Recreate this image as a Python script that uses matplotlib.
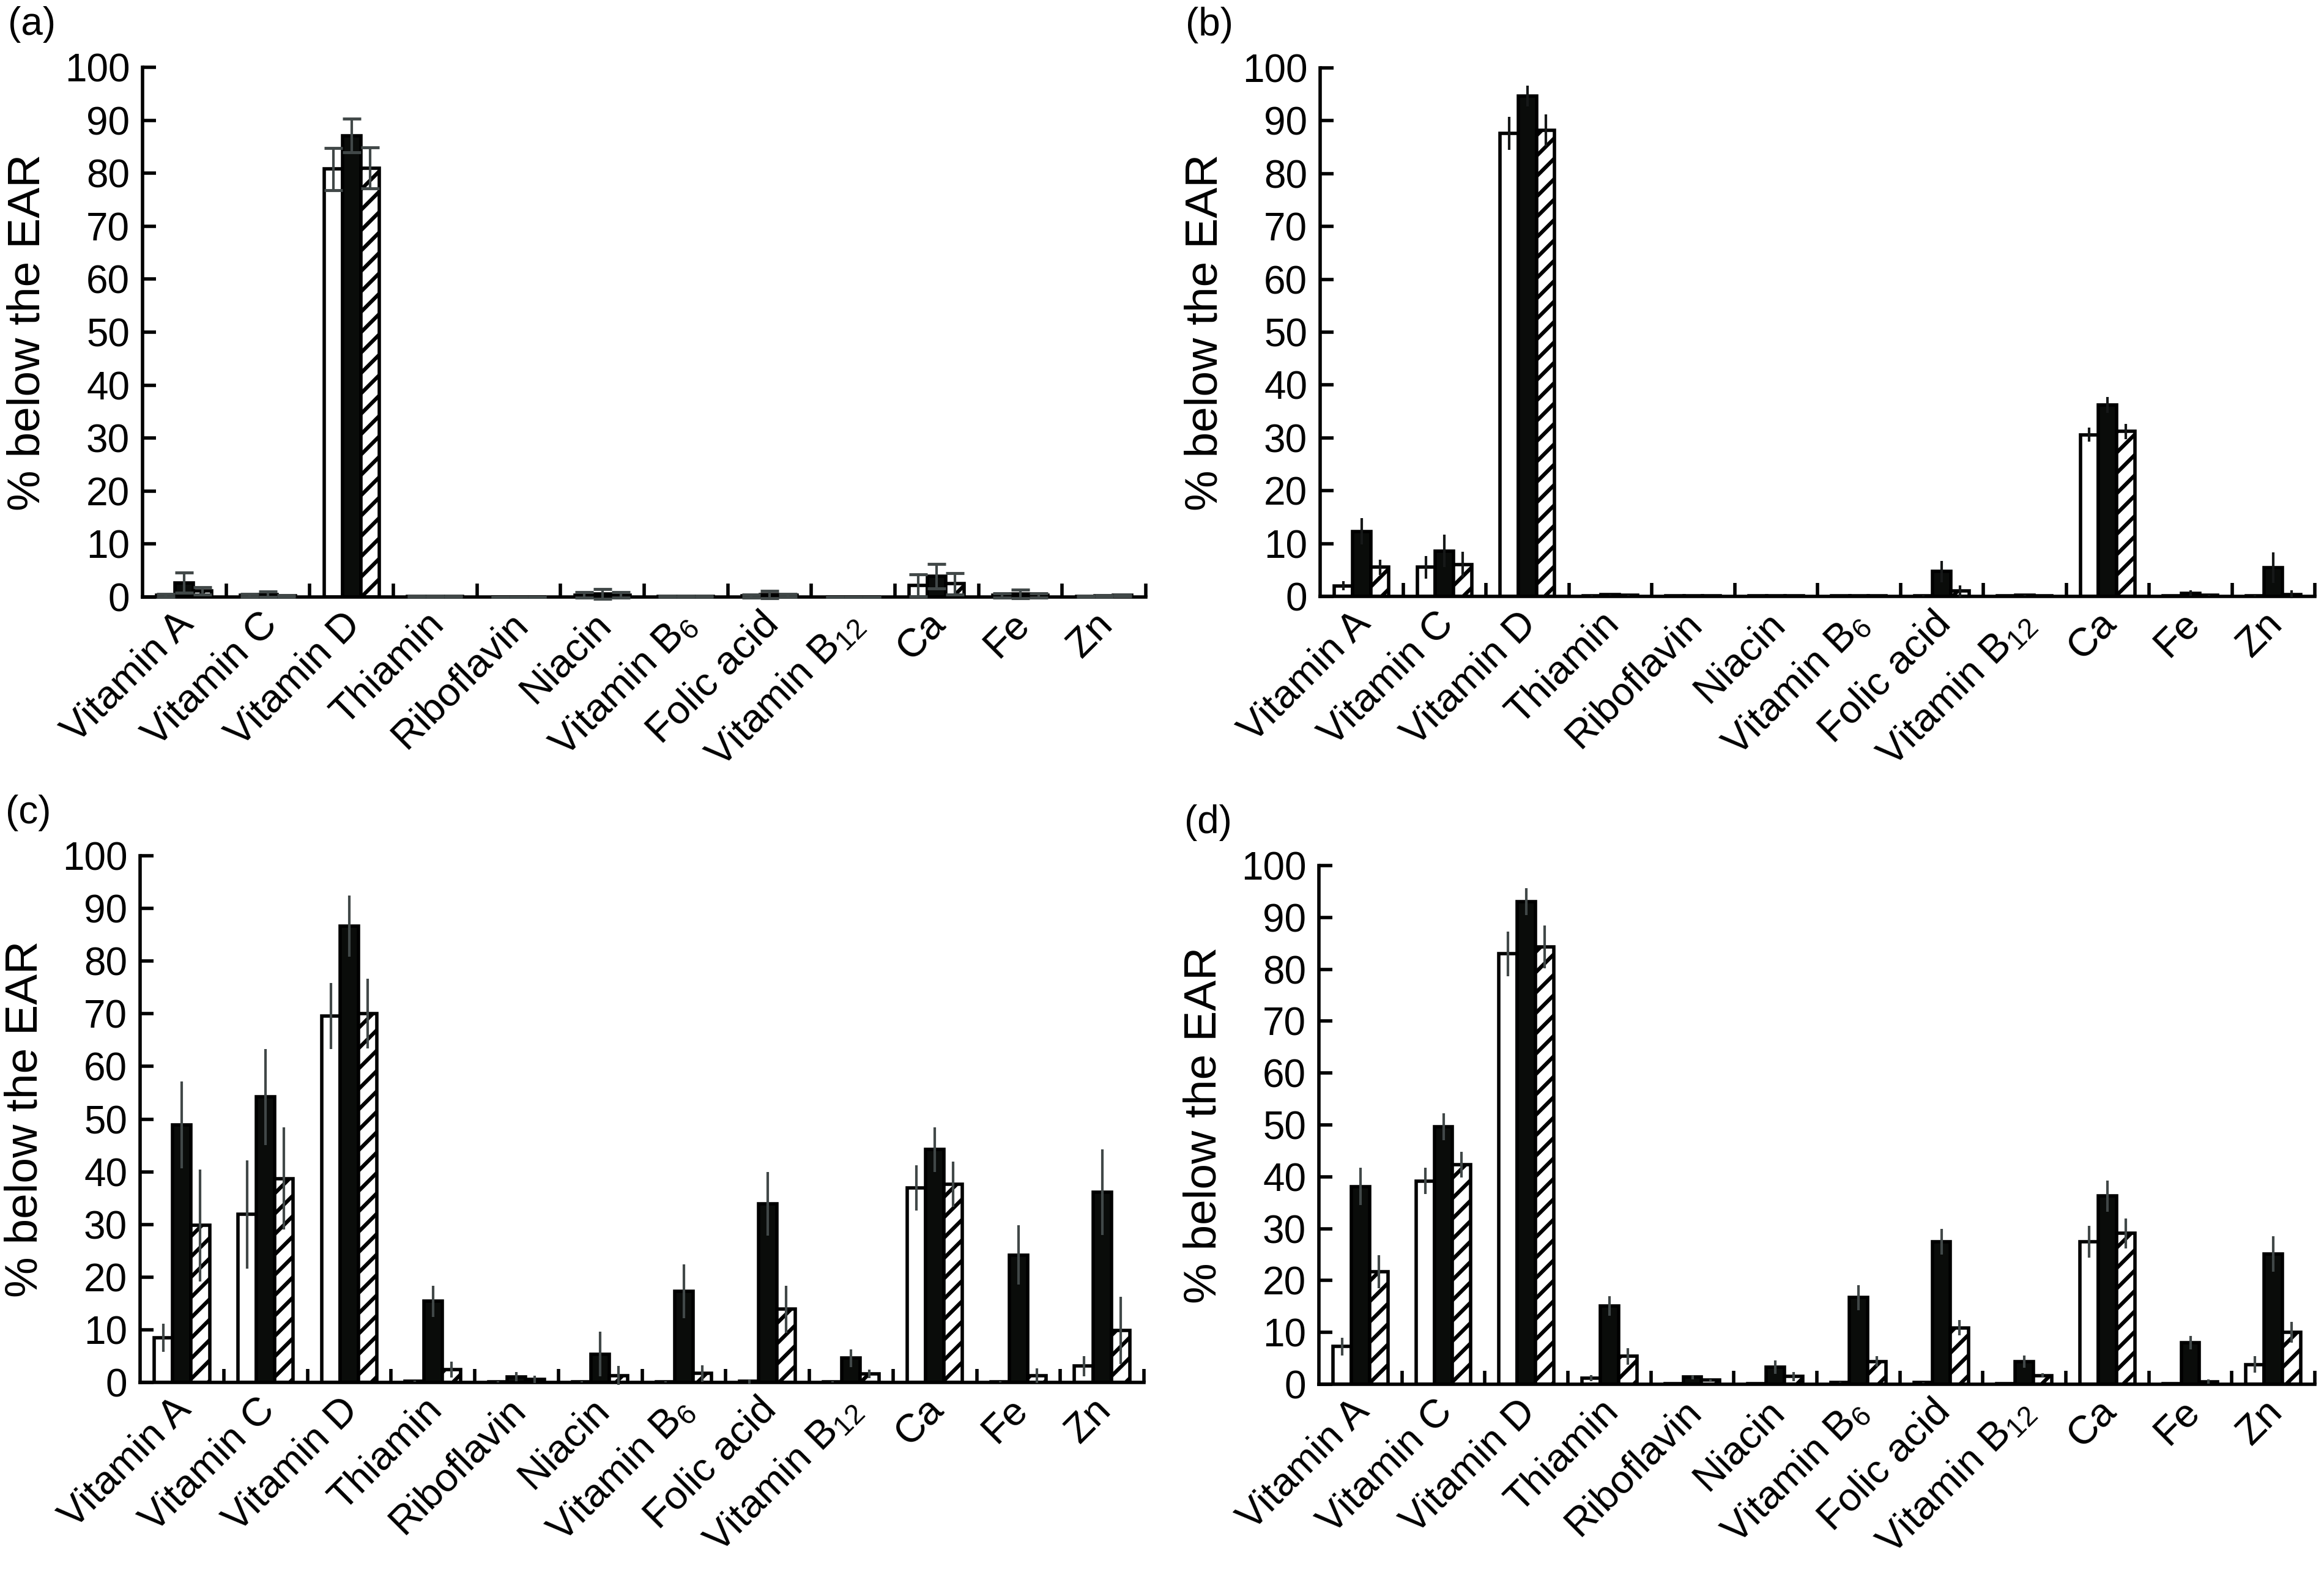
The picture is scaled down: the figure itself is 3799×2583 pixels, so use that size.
import matplotlib
matplotlib.use('Agg')
import matplotlib.pyplot as plt
import matplotlib.transforms as mtransforms
import numpy as np

plt.rcParams['font.family'] = ['Liberation Sans', 'DejaVu Sans']
plt.rcParams['mathtext.default'] = 'regular'
plt.rcParams['hatch.linewidth'] = 4.5

# Categories
nutrients = ['Vitamin A', 'Vitamin C', 'Vitamin D', 'Thiamin', 'Riboflavin', 'Niacin',
             'Vitamin B$_{6}$', 'Folic acid', 'Vitamin B$_{12}$', 'Ca', 'Fe', 'Zn']

# Panel (a)
a_white = [0.3, 0.3, 80.8, 0.1, 0.0, 0.4, 0.1, 0.2, 0.0, 2.2, 0.3, 0.1]
a_white_err = [0.3, 0.3, 4.0, 0.1, 0.0, 0.5, 0.1, 0.3, 0.0, 2.1, 0.4, 0.1]
a_black = [2.7, 0.5, 87.1, 0.1, 0.0, 0.6, 0.1, 0.5, 0.0, 3.9, 0.6, 0.2]
a_black_err = [1.9, 0.5, 3.2, 0.1, 0.0, 0.9, 0.1, 0.7, 0.0, 2.3, 0.8, 0.2]
a_hatch = [1.2, 0.2, 81.0, 0.1, 0.0, 0.4, 0.1, 0.3, 0.0, 2.5, 0.3, 0.3]
a_hatch_err = [0.7, 0.2, 3.9, 0.1, 0.0, 0.5, 0.1, 0.3, 0.0, 2.0, 0.4, 0.2]

# Panel (b)
b_white = [2.0, 5.5, 87.6, 0.1, 0.1, 0.1, 0.1, 0.1, 0.1, 30.6, 0.1, 0.1]
b_white_err = [0.9, 2.1, 3.1, 0.1, 0.0, 0.0, 0.0, 0.1, 0.0, 1.3, 0.0, 0.1]
b_black = [12.3, 8.6, 94.7, 0.3, 0.1, 0.1, 0.1, 4.7, 0.2, 36.2, 0.6, 5.4]
b_black_err = [2.5, 3.1, 2.0, 0.1, 0.0, 0.0, 0.0, 2.0, 0.1, 1.5, 0.5, 2.9]
b_hatch = [5.5, 6.0, 88.2, 0.2, 0.1, 0.1, 0.1, 1.0, 0.1, 31.2, 0.2, 0.4]
b_hatch_err = [1.4, 2.4, 3.0, 0.1, 0.0, 0.0, 0.0, 1.1, 0.0, 1.4, 0.1, 0.7]

# Panel (c)
c_white = [8.5, 31.9, 69.6, 0.2, 0.1, 0.1, 0.1, 0.2, 0.1, 36.9, 0.1, 3.1]
c_white_err = [2.7, 10.3, 6.3, 0.1, 0.1, 0.1, 0.1, 0.4, 0.1, 4.3, 0.1, 1.9]
c_black = [48.9, 54.2, 86.6, 15.4, 1.1, 5.4, 17.3, 33.9, 4.6, 44.2, 24.2, 36.1]
c_black_err = [8.3, 9.1, 5.8, 3.0, 0.9, 4.2, 5.1, 6.0, 1.7, 4.2, 5.6, 8.1]
c_hatch = [29.8, 38.7, 70.0, 2.4, 0.6, 1.3, 1.7, 13.9, 1.6, 37.6, 1.3, 9.9]
c_hatch_err = [10.6, 9.7, 6.6, 1.5, 0.7, 1.8, 1.6, 4.5, 0.8, 4.3, 1.4, 6.4]

# Panel (d)
d_white = [7.3, 39.2, 83.0, 1.2, 0.1, 0.1, 0.4, 0.3, 0.1, 27.5, 0.1, 3.8]
d_white_err = [1.7, 2.5, 4.3, 0.6, 0.0, 0.0, 0.1, 0.1, 0.0, 3.1, 0.0, 1.6]
d_black = [38.1, 49.6, 93.0, 15.1, 1.4, 3.3, 16.7, 27.5, 4.4, 36.3, 8.0, 25.1]
d_black_err = [3.6, 2.6, 2.6, 1.9, 0.4, 1.3, 2.4, 2.5, 1.2, 3.0, 1.3, 3.4]
d_hatch = [21.7, 42.3, 84.3, 5.4, 0.8, 1.5, 4.4, 10.9, 1.7, 29.1, 0.5, 10.0]
d_hatch_err = [3.2, 2.5, 4.1, 1.6, 0.2, 0.9, 1.0, 1.5, 0.4, 2.9, 0.4, 2.0]

W, H = 3799, 2583
fig = plt.figure(figsize=(W / 100, H / 100), dpi=100)

# (left, right, top, bottom) in pixels
panels = [
    ('(a)', (233, 1873, 110, 976), a_white, a_white_err, a_black, a_black_err, a_hatch, a_hatch_err, 11, '#414848'),
    ('(b)', (2158, 3784, 111, 975), b_white, b_white_err, b_black, b_black_err, b_hatch, b_hatch_err, 0, '#161818'),
    ('(c)', (229, 1870, 1399, 2260), c_white, c_white_err, c_black, c_black_err, c_hatch, c_hatch_err, 0, '#414848'),
    ('(d)', (2156, 3784, 1415, 2263), d_white, d_white_err, d_black, d_black_err, d_hatch, d_hatch_err, 0, '#414848'),
]

x = np.arange(len(nutrients))
bw = 0.22

for tag, (l, r, t, b), wv, we, kv, ke, hv, he, cap, err_col in panels:
    ax = fig.add_axes([l / W, 1 - b / H, (r - l) / W, (b - t) / H])
    ax.bar(x - bw, wv, bw, color='white', edgecolor='black', linewidth=4, zorder=2)
    ax.bar(x, kv, bw, color='#0a0c0a', edgecolor='black', linewidth=4, zorder=2)
    ax.bar(x + bw, hv, bw, color='white', edgecolor='black', linewidth=4, hatch='/', zorder=2)
    for off, v, e in [(-bw, wv, we), (0, kv, ke), (bw, hv, he)]:
        ax.errorbar(x + off, v, yerr=e, fmt='none', ecolor=err_col, elinewidth=3,
                    capsize=cap, capthick=3.5, zorder=3, clip_on=False)

    ax.set_xlim(-0.5, len(nutrients) - 0.5)
    ax.set_ylim(0, 100)
    ax.set_yticks(np.arange(0, 101, 10))
    ax.spines['top'].set_visible(False)
    ax.spines['right'].set_visible(False)
    ax.spines['left'].set_linewidth(4)
    ax.spines['bottom'].set_linewidth(4)
    ax.tick_params(axis='y', direction='in', length=16, width=4, labelsize=46, pad=15)
    ax.set_xticks(x)
    ax.set_xticklabels(nutrients, rotation=45, ha='right', rotation_mode='anchor', fontsize=47)
    ax.tick_params(axis='x', which='major', length=0, pad=10)
    shift = mtransforms.ScaledTranslation(-0.16, 0, fig.dpi_scale_trans)
    for lab in ax.get_xticklabels():
        lab.set_transform(lab.get_transform() + shift)
    ax.set_xticks(np.arange(0.5, len(nutrients), 1), minor=True)
    ax.tick_params(axis='x', which='minor', direction='in', length=16, width=4)

    ax.text(-188 / (r - l), 0.5, '% below the EAR', transform=ax.transAxes,
            rotation=90, ha='center', va='center', fontsize=54)
    fig.text((l - 220) / W, 1 - (t - 70) / H, tag, ha='left', va='center', fontsize=46)

fig.savefig('out.png', dpi=100)
